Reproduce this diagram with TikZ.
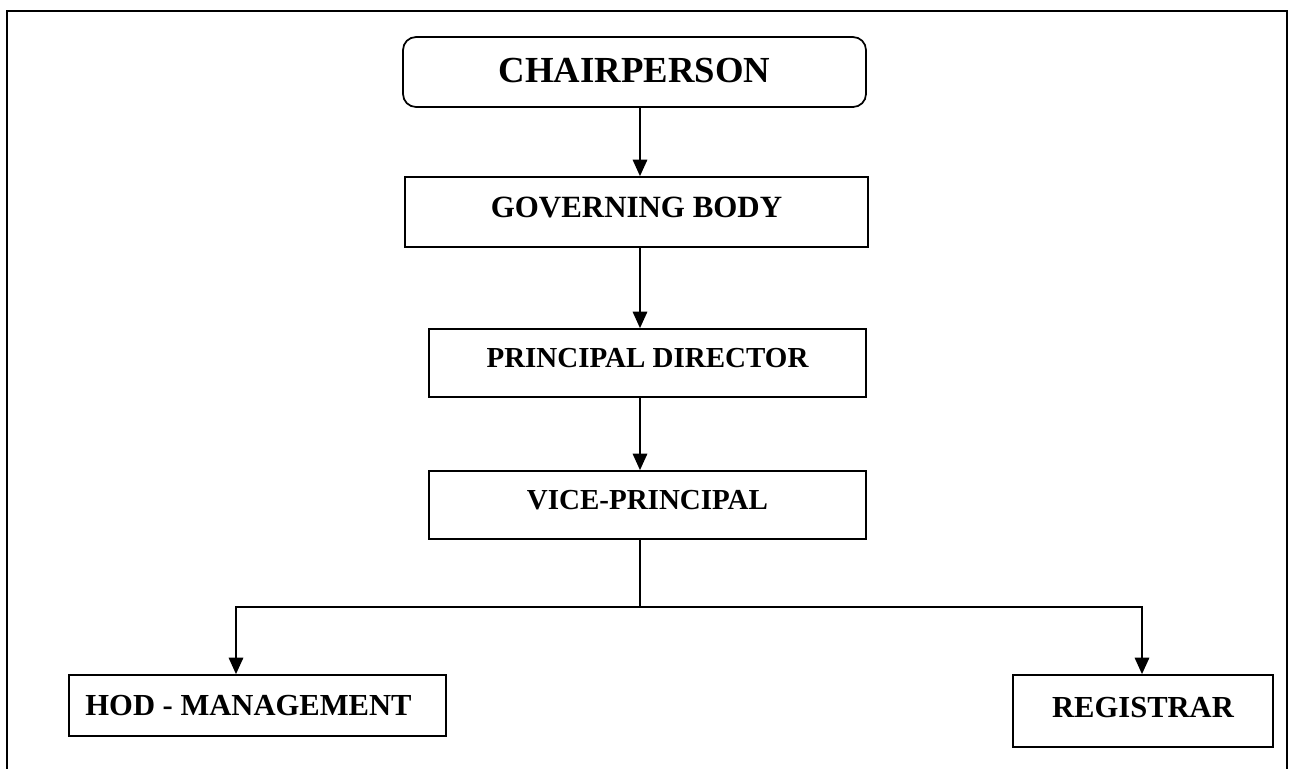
\documentclass[tikz,border=0pt]{standalone}
\usepackage{fontspec}
\setmainfont{Liberation Serif}
\usetikzlibrary{arrows.meta}

\begin{document}
\begin{tikzpicture}[
		box/.style={draw, line width=1pt, inner sep=0pt, font=\bfseries},
		link/.style={line width=1pt, -{Triangle[length=0.33cm, width=0.29cm]}}
	]
		\useasboundingbox (0,0) rectangle (25.82,-15.38);
		% Frame
		\draw[line width=1.4pt] (0.14,-15.38) -- (0.14,-0.22) -- (25.74,-0.22) -- (25.74,-15.38);

		% Boxes
		\node[box, rounded corners=0.26cm, minimum width=9.26cm, minimum height=1.4cm, text height=0.49cm, text depth=0.08cm, font=\bfseries\fontsize{20.9}{25}\selectfont] (chair) at (12.69,-1.44) {CHAIRPERSON};
		\node[box, minimum width=9.26cm, minimum height=1.4cm, text height=0.41cm, text depth=0.18cm, font=\bfseries\fontsize{17.6}{21}\selectfont] (gb) at (12.73,-4.24) {GOVERNING BODY};
		\node[box, minimum width=8.74cm, minimum height=1.36cm, text height=0.39cm, text depth=0.2cm, font=\bfseries\fontsize{16.5}{20}\selectfont] (pd) at (12.95,-7.26) {PRINCIPAL DIRECTOR};
		\node[box, minimum width=8.74cm, minimum height=1.36cm, text height=0.39cm, text depth=0.2cm, font=\bfseries\fontsize{16.5}{20}\selectfont] (vp) at (12.95,-10.10) {VICE-PRINCIPAL};
		\node[box, minimum width=7.54cm, minimum height=1.22cm, text height=0.41cm, text depth=0cm, font=\bfseries\fontsize{17.4}{21}\selectfont] (hod) at (5.15,-14.11) {HOD - MANAGEMENT\hspace*{0.36cm}};
		\node[box, minimum width=5.2cm, minimum height=1.44cm, text height=0.41cm, text depth=0.16cm, font=\bfseries\fontsize{17.4}{21}\selectfont] (reg) at (22.86,-14.22) {REGISTRAR};

		% Arrows
		\coordinate (spine) at (12.8,-12.14);
		\coordinate (hodturn) at (4.72,-12.14);
		\coordinate (regturn) at (22.84,-12.14);
		\draw[link] (chair.south -| spine) -- (gb.north -| spine);
		\draw[link] (gb.south -| spine) -- (pd.north -| spine);
		\draw[link] (pd.south -| spine) -- (vp.north -| spine);
		\draw[line width=1pt] (vp.south -| spine) -- (spine);
		\draw[link] (spine) -- (hodturn) -- (hod.north -| hodturn);
		\draw[link] (spine) -- (regturn) -- (reg.north -| regturn);

	\end{tikzpicture}
\end{document}
